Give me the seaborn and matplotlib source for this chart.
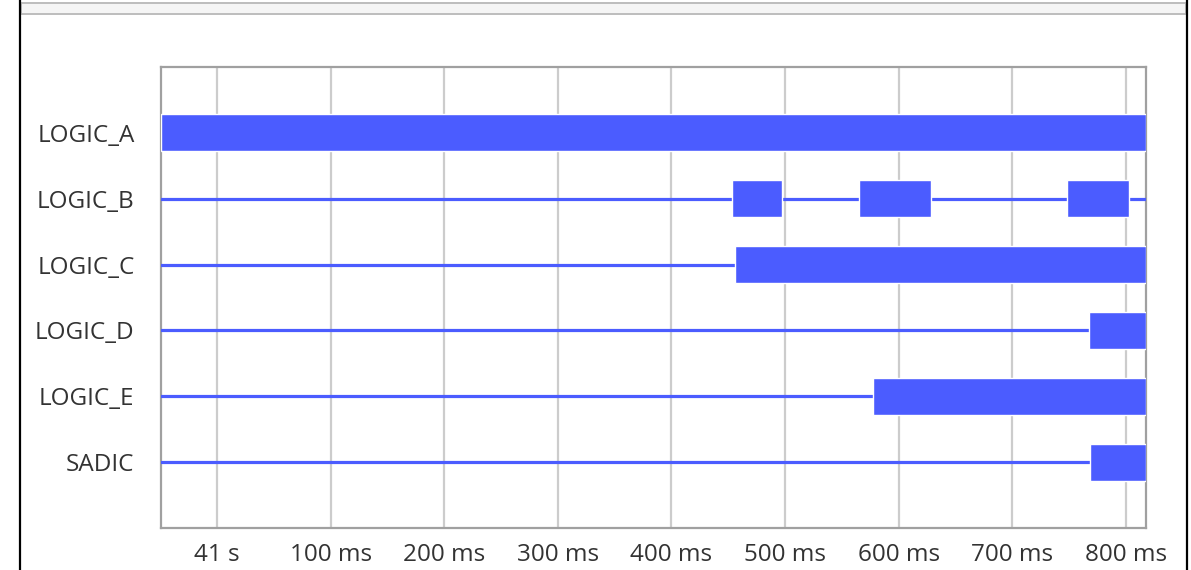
#%% import tools and libraries
import pandas as pd
import seaborn as sb
import matplotlib.pyplot as plt
from matplotlib.patches import Rectangle
from matplotlib.lines import Line2D

#%% data (time in ms, relative to 41 s)
channels = ['LOGIC_A', 'LOGIC_B', 'LOGIC_C', 'LOGIC_D', 'LOGIC_E', 'SADIC']
seg_channel = ['LOGIC_A', 'LOGIC_B', 'LOGIC_B', 'LOGIC_B', 'LOGIC_C', 'LOGIC_D', 'LOGIC_E', 'SADIC']
seg_start = [-49.3, 453.3, 565.0, 748.0, 456.0, 767.6, 577.5, 768.5]
seg_end = [817.8, 497.4, 628.5, 802.8, 817.8, 817.8, 817.8, 817.8]
t_min, t_max = -49.3, 817.8
tick_pos = [0, 100, 200, 300, 400, 500, 600, 700, 800]
tick_labels = ['41 s', '100 ms', '200 ms', '300 ms', '400 ms', '500 ms', '600 ms', '700 ms', '800 ms']

blue = '#4b5cff'

#%% build tables
ypos = {c: i for i, c in enumerate(channels)}
df_base = pd.DataFrame({'channel': channels * 2,
                        't': [t_min] * len(channels) + [t_max] * len(channels)})
df_base['y'] = df_base['channel'].map(ypos)
df_seg = pd.DataFrame({'channel': seg_channel, 'start': seg_start, 'end': seg_end})
df_seg['y'] = df_seg['channel'].map(ypos)

sb.set_style('white')
plt.rcParams['font.family'] = ['Open Sans', 'DejaVu Sans']

fig = plt.figure(figsize=(11.91, 5.70), dpi=100)
ax = fig.add_axes([161 / 1191, 1 - 528 / 570, 985 / 1191, 461 / 570])

# thin baseline for every channel
sb.lineplot(data=df_base, x='t', y='y', units='channel', estimator=None,
            color=blue, linewidth=2.3, ax=ax, zorder=3)
# thick "busy" segments
ax.barh(df_seg['y'], df_seg['end'] - df_seg['start'], left=df_seg['start'],
        height=0.56, color=blue, zorder=4)

ax.set_xlim(t_min, t_max)
ax.set_ylim(6, -1)
ax.set_xticks(tick_pos)
ax.set_xticklabels(tick_labels)
ax.set_yticks(range(len(channels)))
ax.set_yticklabels(channels)
ax.set_xlabel('')
ax.set_ylabel('')
ax.tick_params(axis='both', length=0, labelsize=17.5, colors='#333333')
ax.tick_params(axis='x', pad=11)
ax.tick_params(axis='y', pad=19)
ax.grid(axis='x', color='#cccccc', linewidth=1.6, zorder=0)
ax.set_axisbelow(True)
for s in ax.spines.values():
    s.set_color('#a0a0a0')
    s.set_linewidth(1.6)

# window frame around the chart
fig.add_artist(Line2D([19.5 / 1191] * 2, [0, 1], color='black', linewidth=1.6))
fig.add_artist(Line2D([1187 / 1191] * 2, [0, 1], color='black', linewidth=1.6))
fig.add_artist(Rectangle((21 / 1191, 1 - 14 / 570), 1165 / 1191, 11 / 570,
                         facecolor='#f5f5f5', edgecolor='#bdbdbd', linewidth=1.4))

plt.savefig('out.png', dpi=100)
